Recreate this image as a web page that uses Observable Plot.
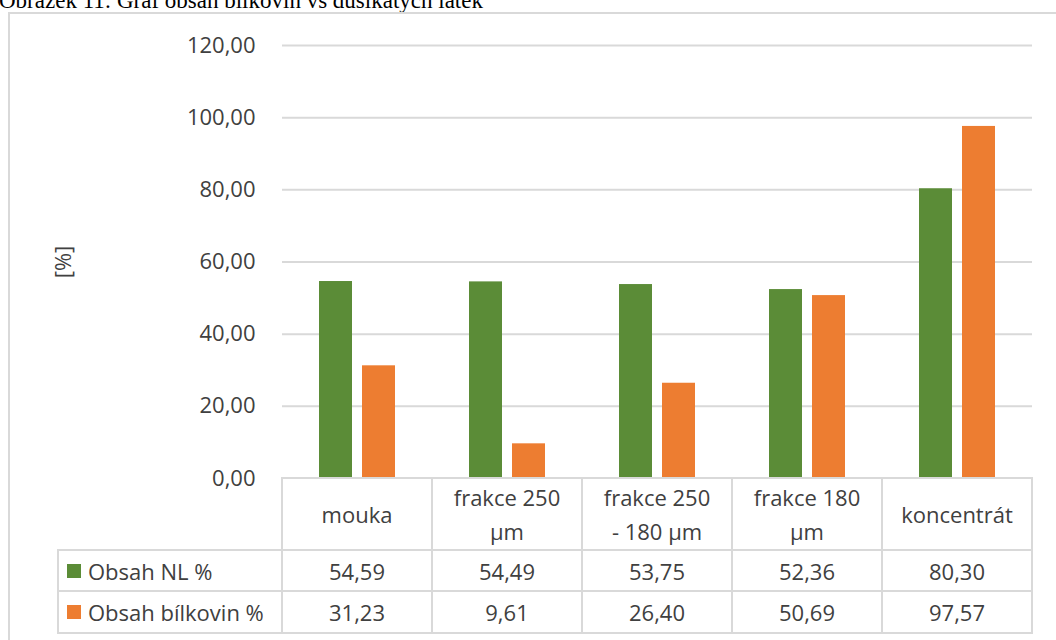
<!DOCTYPE html>
<html>
<head>
<meta charset="utf-8">
<script src="https://cdn.jsdelivr.net/npm/d3@7"></script>
<script src="https://cdn.jsdelivr.net/npm/@observablehq/plot@0.6"></script>
<style>
  html, body { margin: 0; padding: 0; background: #fff; }
  body { position: relative; width: 1056px; height: 640px; overflow: hidden; font-family: "Open Sans", sans-serif; color: #404040; }
  #title { position: absolute; left: -1px; top: -11.5px; font: 23px/23px "Liberation Serif", serif; color: #000; white-space: nowrap; }
  #box { position: absolute; left: 8px; top: 12px; width: 1200px; height: 800px; border: 2px solid #d9d9d9; box-sizing: border-box; }
  #chart { position: absolute; left: 0; top: 0; }
  .cell { position: absolute; box-sizing: border-box; border: 2px solid #d9d9d9; background: #fff;
          display: flex; align-items: center; justify-content: center; text-align: center;
          font-size: 22px; line-height: 34px; color: #404040; white-space: pre; }
  .cell.legend { justify-content: flex-start; padding-left: 8px; }
  .swatch { display: inline-block; width: 14px; height: 14px; margin-right: 7px; }
</style>
</head>
<body>
<div id="title">Obrázek 11: Graf obsah bílkovin vs dusíkatých látek</div>
<div id="box"></div>
<div id="chart"></div>
<script>
// Samples (column headers of the data table; "\n" marks the line break)
const categories = ["mouka", "frakce 250\nµm", "frakce 250\n- 180 µm", "frakce 180\nµm", "koncentrát"];
// Series names and colours
const seriesNames = ["Obsah NL %", "Obsah bílkovin %"];
const seriesColors = ["#5b8c37", "#ed7d31"];
// Values [%]
const nlValues = [54.59, 54.49, 53.75, 52.36, 80.30];
const proteinValues = [31.23, 9.61, 26.40, 50.69, 97.57];
// Y axis ticks
const yTicks = [0, 20, 40, 60, 80, 100, 120];

const seriesValues = [nlValues, proteinValues];
const rows = seriesNames.flatMap((s, si) =>
  categories.map((c, ci) => ({category: c, series: s, value: seriesValues[si][ci]}))
);

const fmt = v => d3.format(".2f")(v).replace(".", ",");

const plot = Plot.plot({
  width: 1056,
  height: 478,
  marginTop: 45,
  marginBottom: 0,
  marginLeft: 280,
  marginRight: 23,
  style: {fontFamily: "Open Sans", fontSize: "22px", color: "#404040", background: "transparent", overflow: "visible"},
  fx: {domain: categories, padding: 0, axis: null},
  x: {domain: seriesNames, paddingInner: 0.227, paddingOuter: 0.822, axis: null},
  y: {domain: [0, 120]},
  color: {domain: seriesNames, range: seriesColors},
  marks: [
    Plot.gridY(yTicks, {stroke: "#d9d9d9", strokeOpacity: 1, strokeWidth: 2}),
    Plot.axisY(yTicks, {
      tickSize: 0, tickPadding: 27, tickFormat: fmt,
      label: "[%]", labelAnchor: "center", labelArrow: "none", labelOffset: 227
    }),
    Plot.barY(rows, {fx: "category", x: "series", y: "value", fill: "series"})
  ]
});
document.getElementById("chart").appendChild(plot);

// Data table under the plot, with columns aligned on the facet bands
const fx = plot.scale("fx");
const color = plot.scale("color");
const bw = fx.bandwidth;
const tableLeft = 58;
const rowEdges = [478, 550, 591, 633];

function cell(left, right, top, bottom, content, cls) {
  const d = document.createElement("div");
  d.className = "cell" + (cls ? " " + cls : "");
  d.style.left = (left - 1) + "px";
  d.style.width = (right - left + 2) + "px";
  d.style.top = (top - 1) + "px";
  d.style.height = (bottom - top + 2) + "px";
  if (typeof content === "string") d.textContent = content; else d.appendChild(content);
  document.body.appendChild(d);
}

categories.forEach(c => {
  const x0 = fx.apply(c);
  cell(x0, x0 + bw, rowEdges[0], rowEdges[1], c);
});
seriesNames.forEach((s, si) => {
  const frag = document.createElement("span");
  const sw = document.createElement("span");
  sw.className = "swatch";
  sw.style.background = color.apply(s);
  frag.appendChild(sw);
  frag.appendChild(document.createTextNode(s));
  frag.style.display = "flex";
  frag.style.alignItems = "center";
  cell(tableLeft, fx.apply(categories[0]), rowEdges[si + 1], rowEdges[si + 2], frag, "legend");
  categories.forEach((c, ci) => {
    const x0 = fx.apply(c);
    cell(x0, x0 + bw, rowEdges[si + 1], rowEdges[si + 2], fmt(seriesValues[si][ci]));
  });
});
</script>
</body>
</html>
